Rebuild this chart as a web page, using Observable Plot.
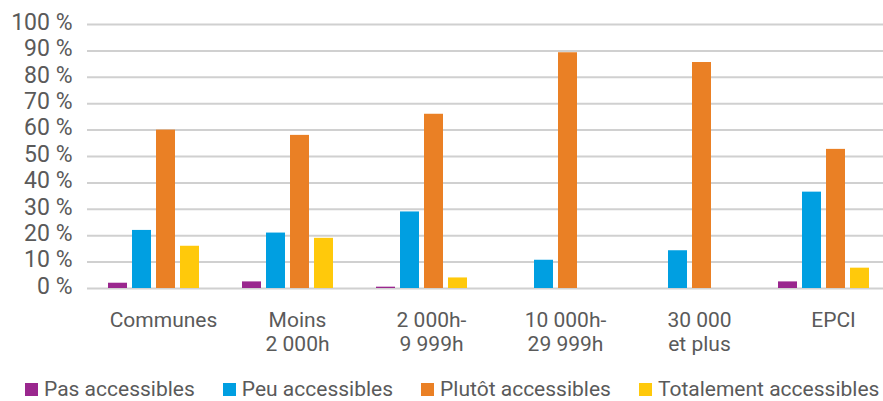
<!DOCTYPE html>
<html>
<head>
<meta charset="utf-8">
<script src="https://cdn.jsdelivr.net/npm/d3@7"></script>
<script src="https://cdn.jsdelivr.net/npm/@observablehq/plot@0.6"></script>
<style>
  html, body { margin: 0; padding: 0; background: #fff; }
  body { width: 883px; height: 401px; overflow: hidden; font-family: Roboto, sans-serif; }
  #legend { display: flex; align-items: baseline; padding-left: 25px; height: 24px; line-height: 24px; font-size: 21px; color: #5a5a5a; white-space: nowrap; }
  #legend .item { display: flex; align-items: baseline; margin-right: 28px; }
  #legend .sw { width: 13px; height: 13px; margin-right: 6px; display: inline-block; }
</style>
</head>
<body>
<div id="chart"></div>
<div id="legend"></div>
<script>
const categories = ["Communes", "Moins\n2 000h", "2 000h-\n9 999h", "10 000h-\n29 999h", "30 000\net plus", "EPCI"];
const series = ["Pas accessibles", "Peu accessibles", "Plutôt accessibles", "Totalement accessibles"];
const colors = ["#9a278e", "#009fe1", "#ea8025", "#ffc90b"];
const pasAccessibles = [2, 2.5, 0.5, 0, 0, 2.5];
const peuAccessibles = [22, 21, 29, 10.7, 14.3, 36.5];
const plutotAccessibles = [60, 58, 66, 89.3, 85.6, 52.7];
const totalementAccessibles = [16, 19, 4, 0, 0, 7.7];
const yTicks = [0, 10, 20, 30, 40, 50, 60, 70, 80, 90, 100];

const valuesBySeries = [pasAccessibles, peuAccessibles, plutotAccessibles, totalementAccessibles];
const data = [];
categories.forEach((c, i) => {
  series.forEach((s, j) => data.push({category: c, series: s, value: valuesBySeries[j][i]}));
});

const chart = Plot.plot({
  width: 883,
  height: 377,
  marginLeft: 86,
  marginRight: -9,
  marginTop: 24,
  marginBottom: 89,
  style: {fontFamily: "Roboto, sans-serif", background: "white"},
  fx: {domain: categories, padding: 0, label: null},
  x: {domain: series, paddingInner: 0.2, paddingOuter: 0.82, axis: null},
  y: {domain: [0, 100], axis: null},
  color: {domain: series, range: colors},
  marks: [
    Plot.ruleY(yTicks, {stroke: "#d0d0d0", strokeWidth: 2}),
    Plot.barY(data, {fx: "category", x: "series", y: "value", fill: "series"}),
    Plot.axisY(yTicks, {
      tickSize: 0, tickPadding: 15, fontSize: 23, fill: "#5a5a5a",
      tickFormat: d => d + " %", dy: -2, label: null
    }),
    Plot.axisFx({
      anchor: "bottom",
      tickSize: 0, tickPadding: 22, fontSize: 21, fill: "#5a5a5a",
      lineHeight: 1.12, label: null, dx: 9
    })
  ]
});
document.getElementById("chart").appendChild(chart);

const legend = document.getElementById("legend");
series.forEach((s, i) => {
  const item = document.createElement("div");
  item.className = "item";
  const sw = document.createElement("span");
  sw.className = "sw";
  sw.style.background = colors[i];
  const t = document.createElement("span");
  t.textContent = s;
  item.appendChild(sw);
  item.appendChild(t);
  legend.appendChild(item);
});
</script>
</body>
</html>
